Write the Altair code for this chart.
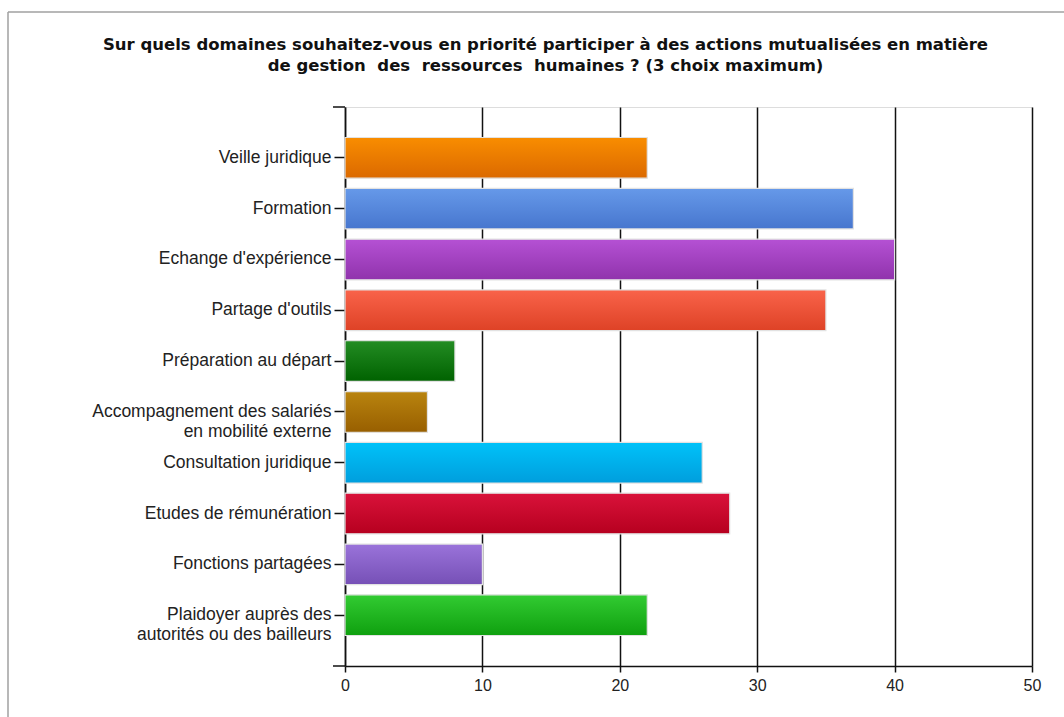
import altair as alt
import pandas as pd

title_lines = [
    "Sur quels domaines souhaitez-vous en priorité participer à des actions mutualisées en matière",
    "de gestion\u00a0 des\u00a0 ressources\u00a0 humaines ? (3 choix maximum)",
]
categories = [
    "Veille juridique",
    "Formation",
    "Echange d'expérience",
    "Partage d'outils",
    "Préparation au départ",
    "Accompagnement des salariés|en mobilité externe",
    "Consultation juridique",
    "Etudes de rémunération",
    "Fonctions partagées",
    "Plaidoyer auprès des|autorités ou des bailleurs",
]
values = [22, 37, 40, 35, 8, 6, 26, 28, 10, 22]
top_colors = ["#f98d00", "#6699e9", "#b551d4", "#f9634a", "#238c23",
              "#b9840f", "#00c2f9", "#d9123a", "#9a73da", "#32cb32"]
bottom_colors = ["#db6900", "#4776ce", "#9033ac", "#de4226", "#006200",
                 "#985f00", "#009edd", "#b6001f", "#7650b6", "#0fa00f"]
x_ticks = [0, 10, 20, 30, 40, 50]

df = pd.DataFrame({"cat": categories, "val": values, "idx": list(range(len(categories)))})

FONT = "Liberation Sans"

x_enc = alt.X(
    "val:Q",
    title=None,
    scale=alt.Scale(domain=[0, 50], nice=False, zero=True),
    axis=alt.Axis(
        values=x_ticks, grid=True, gridColor="#111111", gridWidth=1.5, gridOpacity=1,
        domainColor="#111111", domainWidth=1.5, tickColor="#111111", tickWidth=1.5,
        tickSize=6, labelFont=FONT, labelFontSize=16, labelColor="#222222",
        labelPadding=5, labelFlush=False,
    ),
)
y_enc = alt.Y(
    "cat:N",
    title=None,
    sort=categories,
    scale=alt.Scale(domain=categories, paddingInner=0.2, paddingOuter=0.6),
    axis=alt.Axis(
        grid=False, domainColor="#111111", domainWidth=1.5, tickColor="#111111",
        tickWidth=1.5, tickSize=11, labelFont=FONT, labelFontSize=17.5,
        labelColor="#222222", labelPadding=3, labelLimit=400,
        labelExpr="split(datum.label, '|')", labelLineHeight=20,
    ),
)

layers = []
for i in range(len(categories)):
    grad = alt.Gradient(
        gradient="linear",
        stops=[alt.GradientStop(color=top_colors[i], offset=0),
               alt.GradientStop(color=bottom_colors[i], offset=1)],
        x1=0, x2=0, y1=0, y2=1,
    )
    layers.append(
        alt.Chart(df)
        .transform_filter(alt.datum.idx == i)
        .mark_bar(color=grad, stroke="#e2e2e2", strokeWidth=1.2)
        .encode(x=x_enc, y=y_enc)
    )

one = pd.DataFrame({"k": [0]})
deco = [
    # small end tick at the top of the category axis
    alt.Chart(one).mark_rule(color="#111111", strokeWidth=1.5).encode(
        x=alt.value(-12), x2=alt.value(0), y=alt.value(0)),
    # extension of the value axis to the left
    alt.Chart(one).mark_rule(color="#111111", strokeWidth=1.5).encode(
        x=alt.value(-12), x2=alt.value(0), y=alt.value(559)),
    # outer frame
    alt.Chart(one).mark_rule(color="#a0a0a0", strokeWidth=1.5).encode(
        x=alt.value(-337), x2=alt.value(740), y=alt.value(-95)),
    alt.Chart(one).mark_rule(color="#a0a0a0", strokeWidth=1.5).encode(
        x=alt.value(-337), y=alt.value(-95), y2=alt.value(620)),
]

chart = (
    alt.layer(*layers, *deco)
    .properties(
        width=687,
        height=559,
        autosize=alt.AutoSizeParams(type="none"),
        padding={"left": 345, "top": 107, "right": 32, "bottom": 51},
        title=alt.TitleParams(
            text=title_lines, font="DejaVu Sans", fontSize=16.5, fontWeight="bold",
            color="#111111", anchor="middle", dx=-143, offset=-63, lineHeight=21,
        ),
    )
    .configure_view(stroke=None)
    .configure(background="white")
)

chart.save("out.html", embed_options={"renderer": "svg", "actions": False})
